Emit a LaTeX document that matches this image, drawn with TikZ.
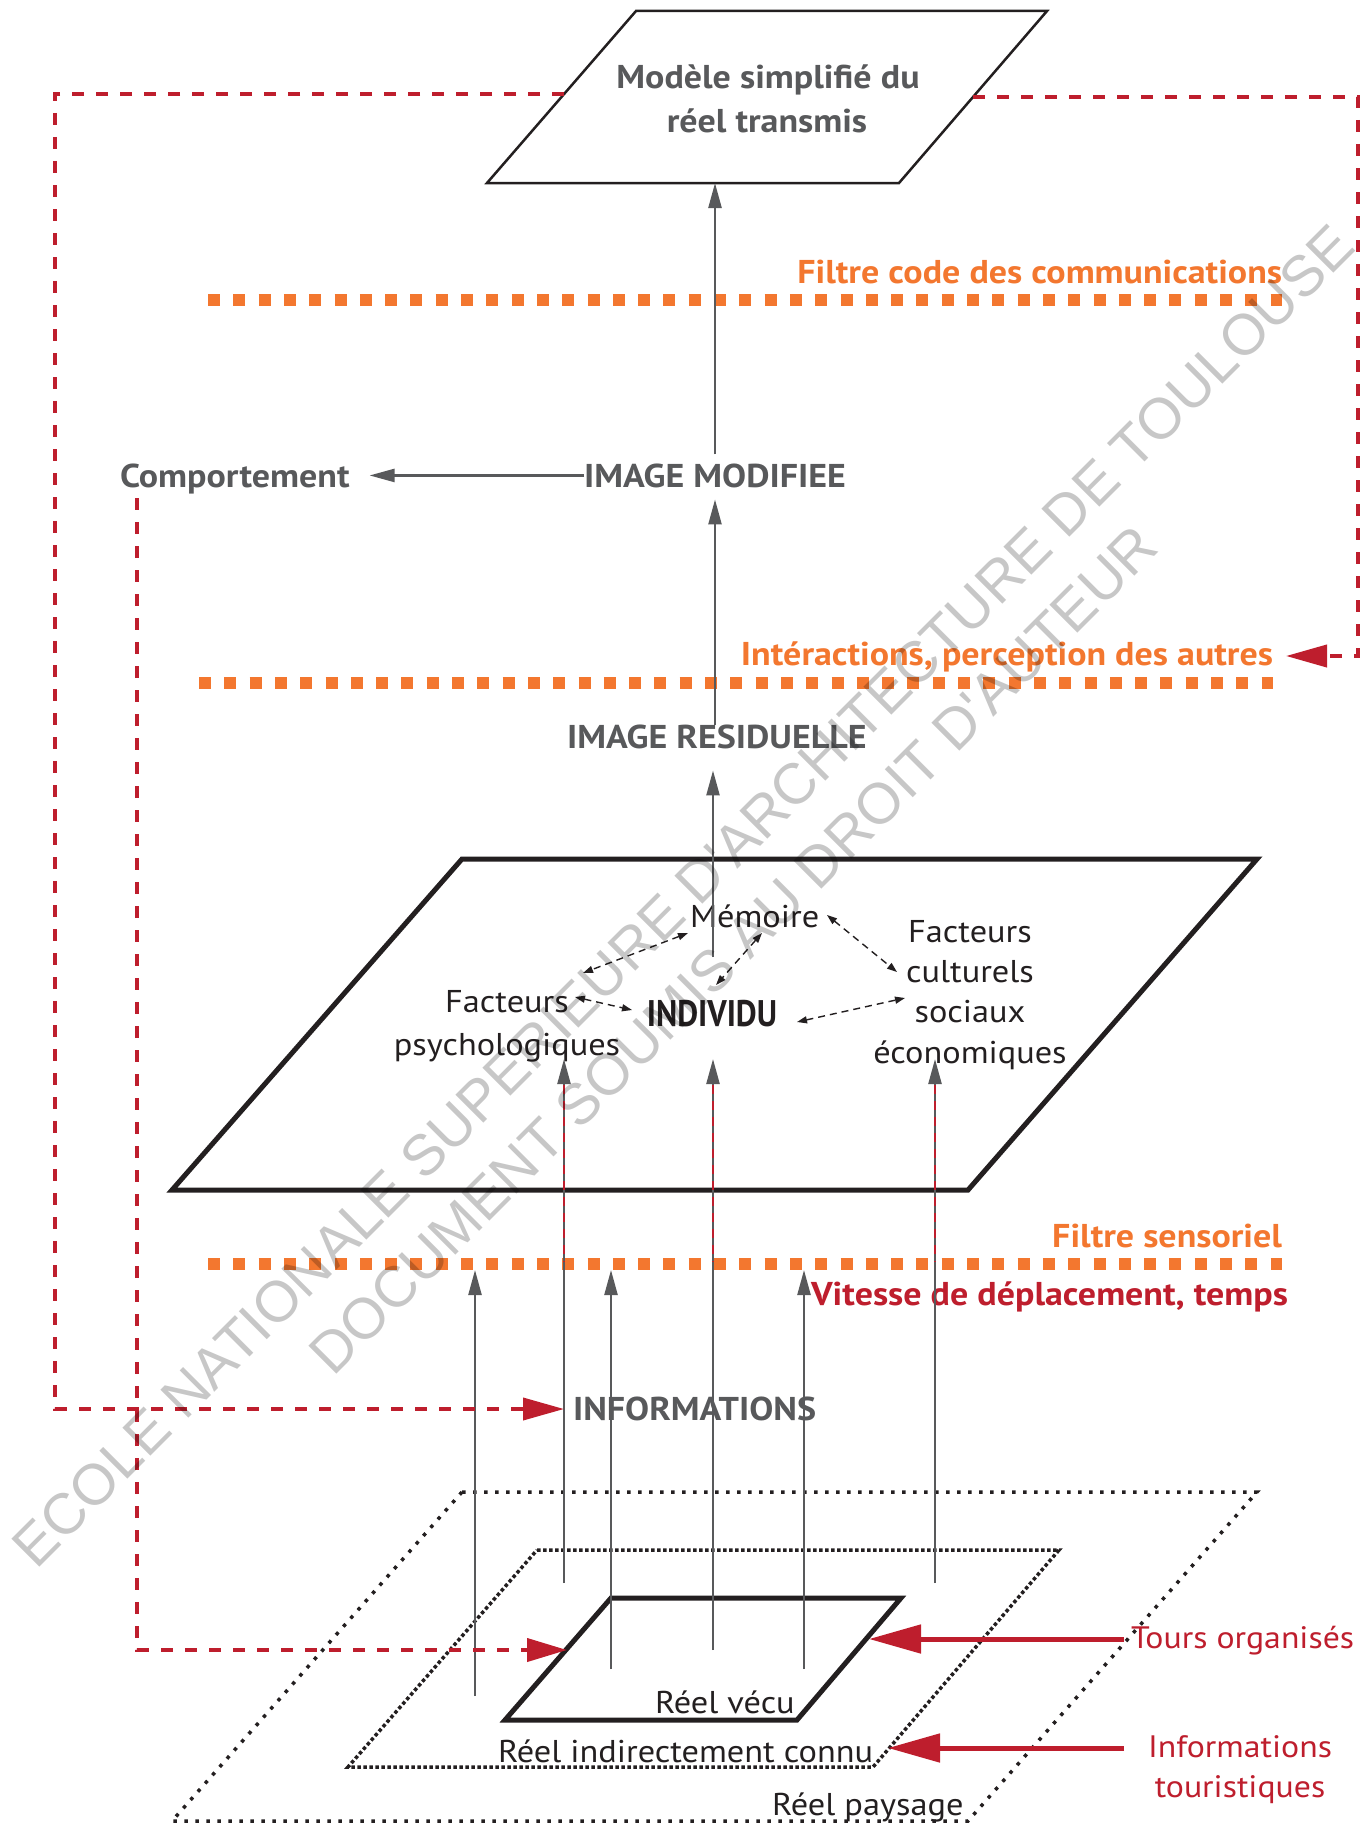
\documentclass[tikz,border=0pt]{standalone}
\usepackage{graphicx}
\usepackage{fontspec}
\setmainfont{PT Sans}[FakeStretch=1.09]
\newfontfamily\wmfont{Liberation Sans}
\usetikzlibrary{arrows.meta,calc}
\definecolor{dgray}{RGB}{88,89,91}
\definecolor{org}{RGB}{243,119,47}
\definecolor{rd}{RGB}{190,30,45}
\definecolor{blk}{RGB}{35,31,32}
\begin{document}
\begin{tikzpicture}[x=1pt,y=-1pt,
  every node/.style={inner sep=0pt, outer sep=0pt},
  bgray/.style={text=dgray, font=\fontsize{33}{40}\selectfont\bfseries},
  borg/.style={text=org, font=\fontsize{33}{40}\selectfont\bfseries},
  bred/.style={text=rd, font=\fontsize{33}{40}\selectfont\bfseries},
  rtxt/.style={text=blk, font=\fontsize{31.5}{40}\selectfont},
  redtxt/.style={text=rd, font=\fontsize{31}{40}\selectfont},
  filterline/.style={draw=org, line width=12pt, dash pattern=on 12pt off 13.3pt},
  redloop/.style={draw=rd, line width=4pt, dash pattern=on 12pt off 12pt},
  redhead/.style={-{Triangle[length=41pt,width=22pt]}},
  garrow/.style={draw=dgray, line width=2.4pt, -{Triangle[length=25pt,width=13pt]}},
  redover/.style={draw=rd, line width=2pt, dash pattern=on 9pt off 7pt},
  darr/.style={draw=blk, line width=1.4pt, dash pattern=on 7pt off 5pt, {Triangle[length=10pt,width=7pt]}-{Triangle[length=10pt,width=7pt]}},
  rsolid/.style={draw=rd, line width=5pt, -{Triangle[length=52pt,width=28pt]}},
  pbox/.style={draw=blk, line width=2.5pt, line join=miter},
  bigbox/.style={draw=blk, line width=5pt, line join=miter},
  dotwide/.style={draw=blk, line width=3.5pt, dash pattern=on 3.5pt off 7.5pt},
  dotdense/.style={draw=blk, line width=3.5pt, dash pattern=on 3.5pt off 2.5pt},
  wm/.style={font=\wmfont\fontsize{57.5}{60}\selectfont, text=black, text opacity=0.22, rotate=45}
]
\useasboundingbox (0,0) rectangle (1372,1825);

% ---------- shapes ----------
\draw[pbox] (636,11) -- (1047,11) -- (899,183) -- (487,183) -- cycle;
\draw[bigbox] (462,859) -- (1257,859) -- (968,1190) -- (172,1190) -- cycle;
\draw[dotwide] (462,1492) -- (1257,1492) -- (968,1821) -- (172,1821) -- cycle;
\draw[dotdense] (537,1550) -- (1059,1550) -- (873,1767) -- (348,1767) -- cycle;
\draw[bigbox] (611,1598) -- (901,1598) -- (797,1720) -- (505,1720) -- cycle;

% ---------- orange filters ----------
\coordinate (f1a) at (208,300);  \coordinate (f1b) at (1282,300);
\coordinate (f2a) at (199,683);  \coordinate (f2b) at (1273,683);
\coordinate (f3a) at (208,1264); \coordinate (f3b) at (1282,1264);
\draw[filterline] (f1a) -- (f1b);
\draw[filterline] (f2a) -- (f2b);
\draw[filterline] (f3a) -- (f3b);

% ---------- texts ----------
\node[bgray, anchor=base] (modA) at (768,89) {Modèle simplifié du};
\node[bgray, anchor=base] (modB) at (767,132) {réel transmis};
\node[borg, anchor=base east] (filt1) at (1282,283) {Filtre code des communications};
\node[bgray, anchor=base west] (comp) at (120,487) {Comportement};
\node[bgray, anchor=base west] (imod) at (584,487) {IMAGE MODIFIEE};
\node[borg, anchor=base east] (inter) at (1273,665) {Intéractions, perception des autres};
\node[bgray, anchor=base west] (ires) at (567,748) {IMAGE RESIDUELLE};
\node[rtxt, anchor=base west] (mem) at (690,927) {Mémoire};
\node[rtxt, anchor=base] (fp1) at (507,1012) {Facteurs};
\node[rtxt, anchor=base] (fp2) at (507,1055) {psychologiques};
\node[anchor=base, text=blk, font=\fontsize{37}{40}\selectfont\bfseries] (indiv) at (712,1026) {\scalebox{0.8}[1]{INDIVIDU}};
\node[rtxt, anchor=base] (fc1) at (970,942) {Facteurs};
\node[rtxt, anchor=base] (fc2) at (970,982) {culturels};
\node[rtxt, anchor=base] (fc3) at (970,1022) {sociaux};
\node[rtxt, anchor=base] (fc4) at (970,1063) {économiques};
\node[borg, anchor=base east] (filt3) at (1282,1247) {Filtre sensoriel};
\node[bred, anchor=base west] (vit) at (811,1305) {Vitesse de déplacement, temps};
\node[bgray, anchor=base west] (info) at (573,1420) {INFORMATIONS};
\node[rtxt, anchor=base west] (vecu) at (655,1713) {Réel vécu};
\node[rtxt, anchor=base west] (connu) at (498,1762) {Réel indirectement connu};
\node[rtxt, anchor=base west] (pays) at (772,1815) {Réel paysage};
\node[redtxt, anchor=base west] (tours) at (1131,1648) {Tours organisés};
\node[redtxt, anchor=base] (it1) at (1240,1757) {Informations};
\node[redtxt, anchor=base] (it2) at (1240,1797) {touristiques};

% ---------- gray arrows (top) ----------
\coordinate (topbot) at (715,183);
\draw[garrow, shorten <=9pt] (imod.north -| topbot) -- (topbot);
\coordinate (a2) at (715,725);
\draw[garrow, shorten >=12pt] (a2) -- (imod.south -| a2);
\coordinate (a3) at (713,957);
\draw[garrow, shorten >=22pt] (a3) -- (ires.south -| a3);
\draw[garrow, shorten >=20pt] (imod.west) -- (imod.west -| comp.east);

% ---------- vertical arrows (bottom) ----------
\coordinate (sA) at (564,1583); \coordinate (tA) at (564,1059);
\coordinate (sB) at (713,1650); \coordinate (tB) at (713,1059);
\coordinate (sC) at (935,1583); \coordinate (tC) at (935,1059);
\coordinate (sD) at (475,1696); \coordinate (tD) at (475,1270);
\coordinate (sE) at (611,1669); \coordinate (tE) at (611,1270);
\coordinate (sF) at (804,1669); \coordinate (tF) at (804,1270);
\foreach \p in {A,B,C,D,E,F} { \draw[garrow] (s\p) -- (t\p); }
\foreach \p in {A,B,C} { \draw[redover] ($(t\p)+(0,26)$) -- ($(t\p)+(0,203)$); }

% ---------- dashed relations ----------
\coordinate (m1) at (827,915); \coordinate (c1a) at (897,972);
\coordinate (m2) at (762,933); \coordinate (i2) at (716,985);
\coordinate (m3) at (688,933); \coordinate (p3) at (583,973);
\coordinate (p4) at (575,997); \coordinate (i4) at (632,1010);
\coordinate (i5) at (797,1022); \coordinate (c5) at (905,998);
\draw[darr] (m1) -- (c1a);
\draw[darr] (m2) -- (i2);
\draw[darr] (m3) -- (p3);
\draw[darr] (p4) -- (i4);
\draw[darr] (i5) -- (c5);

% ---------- red dashed loops ----------
\coordinate (lt) at (564,94);
\draw[redloop, redhead] (lt) -- (55,94) |- ([xshift=-9pt,yshift=11pt]info.base west);
\coordinate (rt) at (973,97);
\draw[redloop, redhead] (rt) -- (1358,97) |- ([xshift=13pt,yshift=9pt]inter.base east);
\coordinate (cb) at (137,498); \coordinate (vecuL) at (567,1650);
\draw[redloop, -{Triangle[length=40pt,width=23pt]}] (cb) |- (vecuL);

% ---------- red solid arrows ----------
\coordinate (toursS) at (1124,1639); \coordinate (toursT) at (869,1639);
\coordinate (itS) at (1124,1748); \coordinate (itT) at (888,1748);
\draw[rsolid] (toursS) -- (toursT);
\draw[rsolid] (itS) -- (itT);

% ---------- watermark ----------
\node[wm] (wm1) at (683,896) {ECOLE NATIONALE SUPERIEURE D'ARCHITECTURE DE TOULOUSE};
\node[wm] (wm2) at (733,950) {DOCUMENT SOUMIS AU DROIT D'AUTEUR};
\end{tikzpicture}
\end{document}
